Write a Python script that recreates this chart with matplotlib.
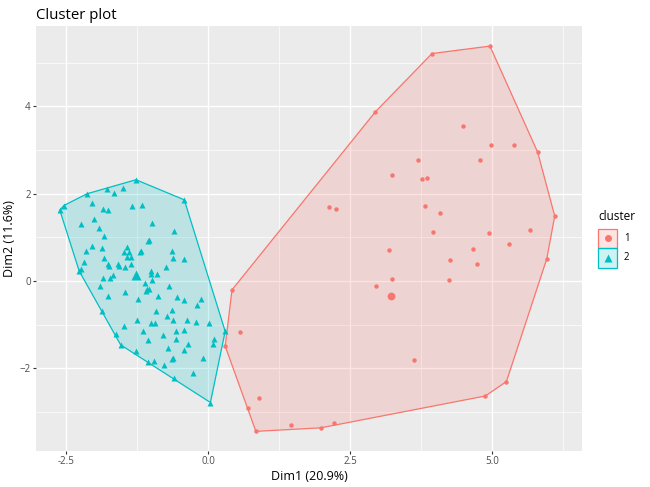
import matplotlib
matplotlib.use("Agg")
import matplotlib.pyplot as plt
from matplotlib.patches import Polygon, Rectangle

# cluster 1 (red circles)
c1_x = [4.96, 3.94, 2.94, 0.42, 0.30, 0.70, 0.84, 1.98, 2.22, 4.88, 5.25, 5.96, 6.10, 5.80,
        4.48, 4.97, 5.38, 3.70, 4.78, 3.24, 3.77, 3.86, 2.13, 2.25, 3.82, 4.08, 3.96, 4.95,
        5.67, 5.29, 3.19, 4.67, 4.25, 4.74, 3.24, 4.24, 2.96, 0.56, 3.62, 0.90, 1.46]
c1_y = [5.38, 5.21, 3.87, -0.20, -1.49, -2.90, -3.44, -3.36, -3.25, -2.63, -2.30, 0.51, 1.49, 2.95,
        3.55, 3.12, 3.11, 2.78, 2.78, 2.42, 2.34, 2.36, 1.69, 1.64, 1.72, 1.56, 1.13, 1.11,
        1.17, 0.84, 0.72, 0.73, 0.48, 0.39, 0.05, 0.02, -0.11, -1.17, -1.81, -2.67, -3.30]

# cluster 2 (cyan triangles)
c2_x = [-1.27, -0.42, 0.30, 0.04, -0.60, -1.54, -1.63, -2.27, -2.61, -2.54, -2.13, -1.78,
        -1.65, -1.50, -2.04, -1.85, -1.77, -1.34, -1.16, -2.01, -2.23, -0.99, -1.92, -0.60,
        -1.84, -1.04, -1.05, -2.05, -1.87, -2.15, -1.42, -1.48, -1.39, -1.36, -1.43, -1.18,
        -1.20, -0.63, -0.62, -0.43, -1.84, -2.18, -1.77, -1.75, -1.58, -1.57, -1.47, -1.35,
        -0.74, -2.24, -1.00, -1.00, -0.90, -1.68, -1.72, -1.85, -0.99, -1.11, -1.91, -0.69,
        -1.07, -1.10, -1.04, -0.89, -1.76, -1.46, -0.55, -0.43, -0.13, -0.20, -1.24, -1.87,
        -0.92, -0.63, -0.72, -1.26, -1.01, -0.93, -0.61, -0.38, -0.22, 0.01, -1.48, -1.14,
        -0.57, -0.43, -1.06, -0.79, -0.57, 0.10, -0.35, 0.09, -0.70, -0.42, -1.27, -1.06,
        -0.96, -0.62, -0.64, -0.09, -0.78, -0.26]
c2_y = [2.32, 1.86, -1.15, -2.78, -2.23, -1.46, -1.22, 0.23, 1.62, 1.73, 2.00, 2.10,
        2.01, 2.13, 1.78, 1.66, 1.63, 1.73, 1.75, 1.43, 1.30, 1.32, 1.22, 1.15,
        1.03, 0.94, 0.91, 0.80, 0.76, 0.70, 0.78, 0.66, 0.66, 0.56, 0.55, 0.69,
        0.67, 0.69, 0.54, 0.50, 0.54, 0.43, 0.40, 0.35, 0.38, 0.34, 0.33, 0.39,
        0.33, 0.27, 0.23, 0.16, 0.17, 0.14, 0.08, 0.06, 0.02, -0.05, -0.11, -0.11,
        -0.17, -0.22, -0.19, -0.34, -0.35, -0.26, -0.37, -0.44, -0.40, -0.54, -0.42, -0.69,
        -0.69, -0.67, -0.79, -0.89, -0.95, -0.95, -0.89, -0.89, -0.93, -0.97, -1.02, -1.15,
        -1.14, -1.13, -1.36, -1.23, -1.33, -1.32, -1.43, -1.45, -1.54, -1.57, -1.60, -1.85,
        -1.83, -1.75, -1.78, -1.77, -1.93, -2.11]

centers_x = [3.21, -1.27]
centers_y = [-0.33, 0.14]

cluster_labels = ["1", "2"]
x_ticks = [-2.5, 0.0, 2.5, 5.0]
y_ticks = [-2, 0, 2, 4]

RED = "#F8766D"
CYAN = "#00BFC4"


def convex_hull(xs, ys):
    pts = sorted(set(zip(xs, ys)))

    def cross(o, a, b):
        return (a[0] - o[0]) * (b[1] - o[1]) - (a[1] - o[1]) * (b[0] - o[0])

    lower = []
    for p in pts:
        while len(lower) >= 2 and cross(lower[-2], lower[-1], p) <= 0:
            lower.pop()
        lower.append(p)
    upper = []
    for p in reversed(pts):
        while len(upper) >= 2 and cross(upper[-2], upper[-1], p) <= 0:
            upper.pop()
        upper.append(p)
    return lower[:-1] + upper[:-1]


plt.rcParams['font.family'] = ['Open Sans', 'DejaVu Sans']

W, H = 650, 487
fig = plt.figure(figsize=(W / 100, H / 100), dpi=100)
# panel: x 36..582 px, y 26..451 px
ax = fig.add_axes([36 / W, 1 - 451 / H, 546 / W, 425 / H])
ax.set_facecolor("#EBEBEB")

for xs, ys, col in [(c1_x, c1_y, RED), (c2_x, c2_y, CYAN)]:
    hull = convex_hull(xs, ys)
    ax.add_patch(Polygon(hull, closed=True, facecolor=col, alpha=0.2, edgecolor="none", zorder=2))
    ax.add_patch(Polygon(hull, closed=True, facecolor="none", edgecolor=col, lw=0.9, zorder=3))

ax.plot(c1_x, c1_y, "o", color=RED, ms=3.2, mec="none", zorder=4)
ax.plot(c2_x, c2_y, "^", color=CYAN, ms=4.4, mec="none", zorder=4)
ax.plot(centers_x[0], centers_y[0], "o", color=RED, ms=5.6, mec="none", zorder=5)
ax.plot(centers_x[1], centers_y[1], "^", color=CYAN, ms=7.2, mec="none", zorder=5)

ax.set_xticks(x_ticks)
ax.set_xticklabels(["%.1f" % t for t in x_ticks])
ax.set_yticks(y_ticks)
ax.set_xticks([-1.25, 1.25, 3.75, 6.25], minor=True)
ax.set_yticks([-3, -1, 1, 3, 5], minor=True)
ax.set_xlim(-3.03, 6.58)
ax.set_ylim(-3.89, 5.84)
ax.grid(which="major", color="white", lw=1.0, zorder=0)
ax.grid(which="minor", color="white", lw=0.5, zorder=0)
ax.set_axisbelow(True)
for s in ax.spines.values():
    s.set_visible(False)
ax.tick_params(which="major", length=2.2, width=0.8, color="#333333",
               labelsize=7, labelcolor="#4D4D4D", pad=1.5)
ax.tick_params(which="minor", length=0)

ax.set_xlabel("Dim1 (20.9%)", fontsize=9, labelpad=2)
ax.set_ylabel("Dim2 (11.6%)", fontsize=9, labelpad=3)
ax.set_title("Cluster plot", loc="left", fontsize=10.8, pad=5)

# legend drawn in pixel space on an overlay axes
lax = fig.add_axes([0, 0, 1, 1])
lax.set_xlim(0, W)
lax.set_ylim(H, 0)
lax.axis("off")
lax.text(598, 216.5, "cluster", fontsize=8.5, va="center", ha="left")
key_markers = ["o", "^"]
key_ms = [5, 6]
for i, (lab, col) in enumerate(zip(cluster_labels, [RED, CYAN])):
    y0 = 228.5 + i * 19.7
    lax.add_patch(Rectangle((598, y0), 19.3, 19.3, facecolor=col, alpha=0.2, edgecolor="none"))
    lax.add_patch(Rectangle((598, y0), 19.3, 19.3, facecolor="none", edgecolor=col, lw=0.9))
    lax.plot(598 + 9.65, y0 + 9.65, key_markers[i], color=col, ms=key_ms[i], mec="none")
    lax.text(624, y0 + 9.8, lab, fontsize=7, va="center", ha="left")

fig.savefig("out.png", dpi=100)
